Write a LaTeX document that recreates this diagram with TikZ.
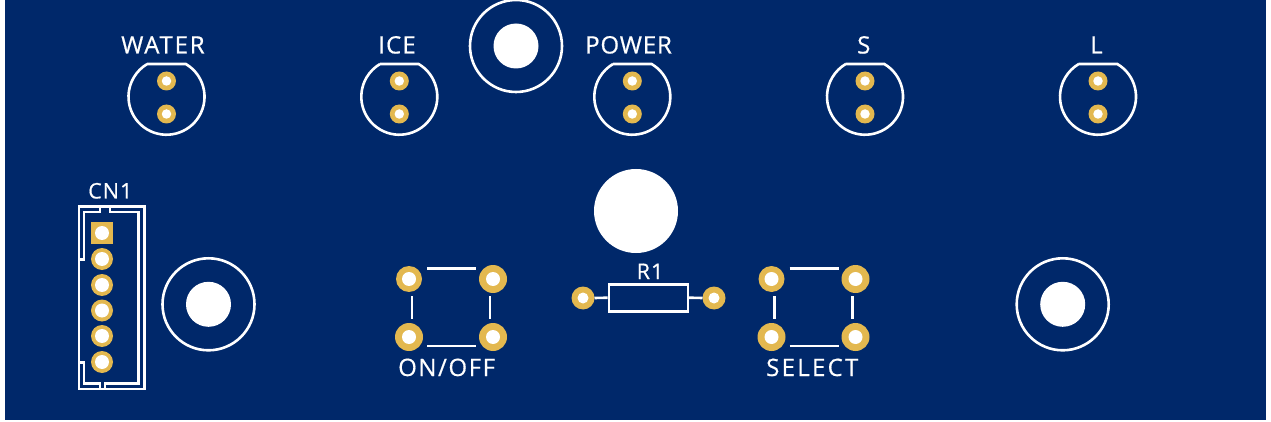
\documentclass[tikz,border=0pt]{standalone}
\usepackage{fontspec}
\setmainfont{Open Sans}
\definecolor{board}{HTML}{00286A}
\definecolor{gold}{HTML}{E3B84F}
\newfontfamily\silk[LetterSpace=5,FakeBold=0.6]{Open Sans}
\newcommand{\ledpart}[4]{%
  \node[lbl] (#1t) at (#4,53.5) {#3};
  \draw[silkline] ({#2-19.3},64) -- ({#2+19.3},64) arc[start angle=-59.5,end angle=239.5,radius=38];
  \node[pad,minimum size=19pt] (#1a) at (#2,81) {};
  \node[pad,minimum size=19pt] (#1b) at (#2,114) {};
  \node[hole,minimum size=9.5pt] at (#1a) {};
  \node[hole,minimum size=9.5pt] at (#1b) {};
}
\newcommand{\swpart}[4]{%
  \foreach \dx/\dy/\n/\s in {0/0/a/26,84/0/b/28,0/58/c/28,84/58/d/28}{
    \node[pad,minimum size=\s pt] (#1\n) at ({#2+\dx},{279+\dy}) {};
    \node[hole,minimum size=14pt] at (#1\n) {};
  }
  \draw[silkline] ({#2+18},268.7) -- ({#2+67},268.7);
  \draw[silkline] ({#2+18},346) -- ({#2+67},346);
  \draw[silkline] ({#2+3},296) -- ({#2+3},319);
  \draw[silkline] ({#2+81},296) -- ({#2+81},319);
  \node[lbl] at (#3,376) {#4};
}
\newcommand{\mounthole}[3]{%
  \node[hole,minimum size=45pt] (#1) at (#2,#3) {};
  \draw[silkline] (#1.center) circle[radius=46];
}
\newcommand{\spaced}[2]{{\addfontfeature{LetterSpace=#1}#2}}
\begin{document}
\begin{tikzpicture}[x=1pt,y=-1pt,
  silkline/.style={draw=white,line width=2.6pt},
  pad/.style={circle,fill=gold,inner sep=0pt,outer sep=0pt},
  hole/.style={circle,fill=white,inner sep=0pt,outer sep=0pt},
  lbl/.style={text=white,font=\silk\fontsize{24}{24}\selectfont,inner sep=0pt,anchor=base west},
  lblsmall/.style={lbl,font=\silk\fontsize{21.5}{22}\selectfont}]
\useasboundingbox (0,0) rectangle (1271,422);
\fill[white] (0,0) rectangle (1271,422);
\fill[board] (5,0.5) rectangle (1266,420);
% LEDs
\ledpart{w}{166.5}{\spaced{7.5}{WATER}}{121}
\ledpart{i}{399.3}{ICE}{378}
\ledpart{p}{632.3}{\spaced{3.5}{POWER}}{585}
\ledpart{s}{865}{S}{857}
\ledpart{l}{1098}{L}{1090}
% mounting holes
\mounthole{m1}{516}{46}
\mounthole{m2}{208.5}{304.3}
\mounthole{m3}{1062.7}{304.3}
\node[hole,minimum size=84pt] (m4) at (636,211) {};
% switches
\swpart{on}{409}{398}{\spaced{6.5}{ON/OFF}}
\swpart{se}{771.5}{766}{\spaced{9.5}{SELECT}}
% resistor
\node[draw=white,line width=2.6pt,minimum width=79pt,minimum height=27pt,inner sep=0pt] (r) at (648.4,297.7) {};
\node[pad,minimum size=23pt] (ra) at (583,298) {};
\node[pad,minimum size=23pt] (rb) at (714,298) {};
\node[hole,minimum size=11pt] at (ra) {};
\node[hole,minimum size=11pt] at (rb) {};
\draw[silkline] (ra.east) -- (r.west);
\draw[silkline] (r.east) -- (rb.west);
\node[lblsmall] (rl) at (636.5,279) {R1};
% connector
\node[lblsmall] (cl) at (88,198.5) {CN1};
\draw[silkline] (79,206.7) rectangle (144.7,389);
\draw[silkline] (79,259.5) -- (84,259.5) -- (84,212) -- (100,212) -- (100,206.7);
\draw[silkline] (110,206.7) -- (110,212) -- (138.3,212) -- (138.3,383.3) -- (105,383.3) -- (105,389);
\draw[silkline] (100,389) -- (100,383.3) -- (84,383.3) -- (84,362.7) -- (79,362.7);
\node[fill=gold,minimum size=22pt,inner sep=0pt] (c1) at (102,233) {};
\node[hole,minimum size=14pt] at (c1) {};
\foreach \y/\n in {259/2,285/3,310.5/4,336/5,362/6}{
  \node[pad,minimum size=22pt] (c\n) at (102,\y) {};
  \node[hole,minimum size=14pt] at (c\n) {};
}
\end{tikzpicture}
\end{document}
